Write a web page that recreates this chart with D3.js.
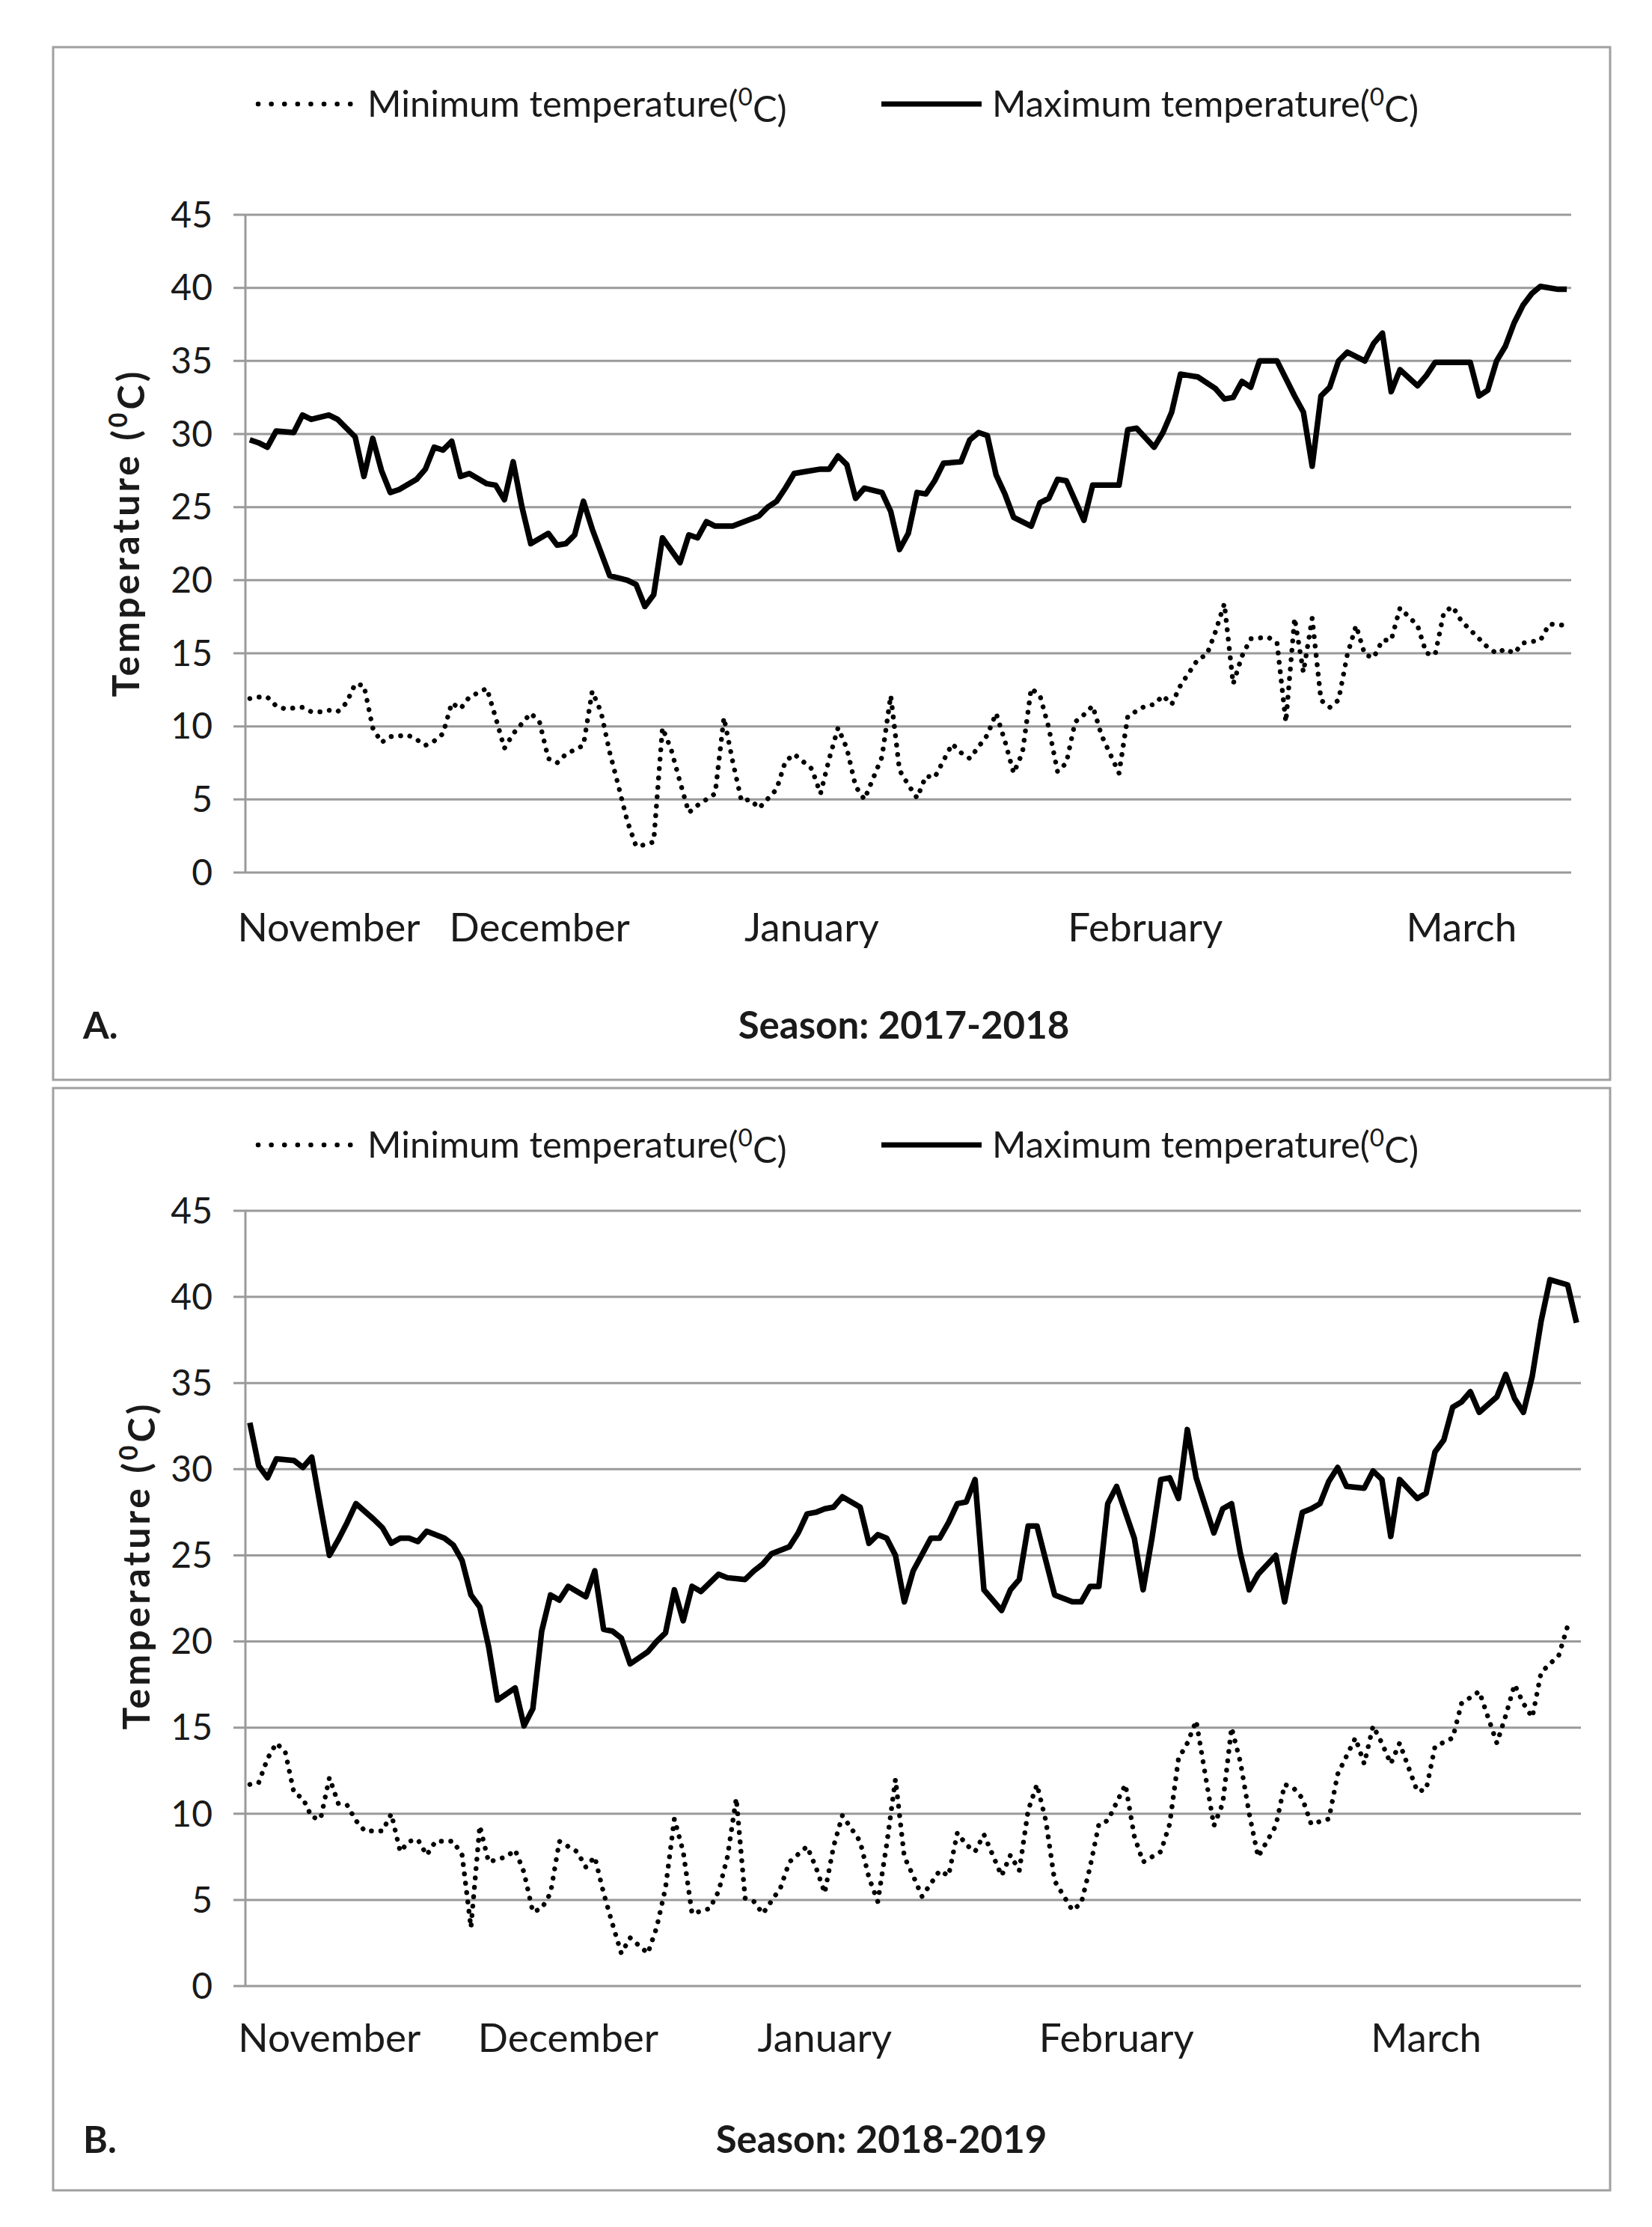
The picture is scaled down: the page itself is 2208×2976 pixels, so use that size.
<!DOCTYPE html>
<html>
<head>
<meta charset="utf-8">
<script src="https://cdn.jsdelivr.net/npm/d3@7"></script>
<style>
  body { margin: 0; background: #fff; }
  text { font-family: Lato, "Open Sans", sans-serif; fill: #1a1a1a; }
</style>
</head>
<body>
<div id="chart"></div>
<script>
// month labels and the day (0 = 1 Nov) each one sits on
const months = ["November", "December", "January", "February", "March"];
const monthDaysA = [9, 33, 64, 102, 138];
const monthDaysB = [9, 36, 65, 98, 133];
const yTicks = [0, 5, 10, 15, 20, 25, 30, 35, 40, 45];
const seasons = ["Season: 2017-2018", "Season: 2018-2019"];
const tags = ["A.", "B."];
const nDays = 151;

// [day, °C]
const maxA = [[0,29.6],[1,29.4],[2,29.1],[3,30.2],[5,30.1],[6,31.3],[7,31.0],[9,31.3],[10,31.0],[11,30.4],[12,29.8],[13,27.1],[14,29.7],[15,27.5],[16,26.0],[17,26.2],[19,26.9],[20,27.6],[21,29.1],[22,28.9],[23,29.5],[24,27.1],[25,27.3],[27,26.6],[28,26.5],[29,25.5],[30,28.1],[31,25.0],[32,22.5],[34,23.2],[35,22.4],[36,22.5],[37,23.1],[38,25.4],[39,23.5],[41,20.3],[43,20.0],[44,19.7],[45,18.2],[46,19.0],[47,22.9],[49,21.2],[50,23.1],[51,22.9],[52,24.0],[53,23.7],[55,23.7],[58,24.4],[59,25.0],[60,25.4],[61,26.3],[62,27.3],[63,27.4],[65,27.6],[66,27.6],[67,28.5],[68,27.9],[69,25.6],[70,26.3],[72,26.0],[73,24.7],[74,22.1],[75,23.2],[76,26.0],[77,25.9],[78,26.8],[79,28.0],[81,28.1],[82,29.6],[83,30.1],[84,29.9],[85,27.2],[86,25.9],[87,24.3],[89,23.7],[90,25.3],[91,25.6],[92,26.9],[93,26.8],[95,24.1],[96,26.5],[99,26.5],[100,30.3],[101,30.4],[103,29.1],[104,30.1],[105,31.5],[106,34.1],[107,34.0],[108,33.9],[110,33.1],[111,32.4],[112,32.5],[113,33.6],[114,33.2],[115,35.0],[117,35.0],[119,32.6],[120,31.5],[121,27.8],[122,32.6],[123,33.2],[124,35.0],[125,35.6],[127,35.0],[128,36.2],[129,36.9],[130,32.9],[131,34.4],[133,33.3],[134,34.0],[135,34.9],[139,34.9],[140,32.6],[141,33.0],[142,35.0],[143,36.0],[144,37.6],[145,38.8],[146,39.6],[147,40.1],[149,39.9],[150,39.9]];
const minA = [[0,11.9],[1,12.0],[2,12.0],[3,11.4],[4,11.2],[6,11.3],[7,11.0],[8,11.0],[9,11.1],[10,11.0],[11,11.6],[12,12.9],[13,12.8],[14,9.9],[15,8.9],[16,9.3],[18,9.4],[19,9.1],[20,8.7],[21,9.0],[22,9.5],[23,11.6],[24,11.2],[25,12.0],[27,12.6],[28,10.6],[29,8.5],[30,9.5],[32,10.9],[33,10.3],[34,7.8],[35,7.5],[36,8.1],[38,8.7],[39,12.4],[40,11.0],[41,8.2],[42,5.9],[43,3.5],[44,1.8],[45,1.9],[46,2.1],[47,9.9],[48,8.4],[49,6.2],[50,4.1],[51,4.6],[53,5.4],[54,10.6],[55,7.6],[56,4.9],[57,5.0],[58,4.4],[60,5.7],[61,7.6],[62,8.1],[64,7.1],[65,5.4],[66,7.8],[67,9.9],[68,8.5],[69,5.9],[70,5.0],[72,7.9],[73,12.1],[74,7.0],[75,6.0],[76,5.1],[77,6.6],[78,6.5],[80,8.8],[81,8.2],[82,7.8],[84,9.4],[85,10.9],[86,9.0],[87,6.8],[88,8.2],[89,12.6],[90,12.1],[91,9.9],[92,6.9],[93,7.5],[94,10.3],[95,10.8],[96,11.4],[97,9.4],[99,6.8],[100,10.7],[102,11.4],[103,11.5],[104,12.1],[105,11.5],[106,12.8],[108,14.6],[109,14.9],[110,16.5],[111,18.4],[112,12.9],[113,14.8],[114,16.0],[116,16.1],[117,15.7],[118,10.3],[119,17.4],[120,13.7],[121,17.4],[122,11.8],[123,11.3],[124,11.8],[125,14.9],[126,16.9],[127,14.9],[128,14.7],[129,15.9],[130,15.9],[131,18.1],[133,16.9],[134,15.0],[135,14.9],[136,17.8],[137,18.2],[138,17.2],[141,15.4],[142,15.0],[143,15.3],[144,15.0],[145,15.7],[147,15.9],[148,17.0],[150,16.9]];
const maxB = [[0,32.7],[1,30.2],[2,29.5],[3,30.6],[5,30.5],[6,30.1],[7,30.7],[8,27.8],[9,25.0],[10,25.9],[11,26.9],[12,28.0],[14,27.1],[15,26.6],[16,25.7],[17,26.0],[18,26.0],[19,25.8],[20,26.4],[22,26.0],[23,25.6],[24,24.7],[25,22.7],[26,22.0],[27,19.7],[28,16.6],[30,17.3],[31,15.1],[32,16.1],[33,20.6],[34,22.7],[35,22.4],[36,23.2],[38,22.6],[39,24.1],[40,20.7],[41,20.6],[42,20.2],[43,18.7],[45,19.4],[46,20.0],[47,20.5],[48,23.0],[49,21.2],[50,23.2],[51,22.9],[53,23.9],[54,23.7],[56,23.6],[57,24.1],[58,24.5],[59,25.1],[61,25.5],[62,26.3],[63,27.4],[64,27.5],[65,27.7],[66,27.8],[67,28.4],[69,27.8],[70,25.7],[71,26.2],[72,26.0],[73,25.0],[74,22.3],[75,24.1],[77,26.0],[78,26.0],[79,26.9],[80,28.0],[81,28.1],[82,29.4],[83,23.0],[85,21.8],[86,23.0],[87,23.6],[88,26.7],[89,26.7],[90,24.7],[91,22.7],[93,22.3],[94,22.3],[95,23.2],[96,23.2],[97,28.0],[98,29.0],[100,26.0],[101,23.0],[102,26.0],[103,29.4],[104,29.5],[105,28.3],[106,32.3],[107,29.5],[109,26.3],[110,27.7],[111,28.0],[112,25.1],[113,23.0],[114,23.9],[116,25.0],[117,22.3],[118,25.0],[119,27.5],[120,27.7],[121,28.0],[122,29.3],[123,30.1],[124,29.0],[126,28.9],[127,29.9],[128,29.4],[129,26.1],[130,29.4],[132,28.3],[133,28.6],[134,31.0],[135,31.7],[136,33.6],[137,33.9],[138,34.5],[139,33.3],[141,34.2],[142,35.5],[143,34.1],[144,33.3],[145,35.4],[146,38.6],[147,41.0],[149,40.7],[150,38.5]];
const minB = [[0,11.7],[1,11.8],[2,13.2],[3,14.1],[4,13.6],[5,11.2],[6,10.9],[7,9.8],[8,9.7],[9,12.1],[10,10.6],[11,10.5],[12,9.6],[13,9.0],[15,9.0],[16,10.0],[17,7.8],[18,8.4],[19,8.5],[20,7.6],[21,8.4],[23,8.4],[24,7.6],[25,3.4],[26,9.3],[27,7.2],[29,7.5],[30,7.9],[31,6.6],[32,4.3],[33,4.5],[34,5.4],[35,8.4],[37,7.8],[38,6.9],[39,7.5],[40,5.4],[41,3.6],[42,1.9],[43,2.8],[45,1.9],[46,3.4],[47,5.7],[48,9.7],[49,7.8],[50,4.2],[52,4.5],[53,5.5],[54,7.5],[55,10.9],[56,5.1],[57,4.9],[58,4.2],[60,5.7],[61,7.2],[63,8.1],[64,6.9],[65,5.4],[66,8.1],[67,9.9],[69,8.4],[70,6.3],[71,4.9],[72,8.2],[73,12.0],[74,7.5],[75,6.4],[76,5.2],[78,6.7],[79,6.4],[80,8.9],[81,8.2],[82,7.8],[83,8.8],[85,6.4],[86,7.6],[87,6.7],[88,10.2],[89,11.7],[90,9.6],[91,6.1],[93,4.4],[94,4.8],[95,6.9],[96,9.4],[97,9.6],[99,11.7],[100,8.7],[101,7.2],[103,7.8],[104,9.4],[105,13.2],[106,14.1],[107,15.4],[109,9.3],[110,10.6],[111,15.0],[112,13.0],[113,10.0],[114,7.5],[116,9.3],[117,11.7],[118,11.5],[119,10.9],[120,9.4],[122,9.7],[123,12.3],[125,14.4],[126,12.9],[127,15.1],[128,14.1],[129,12.9],[130,14.1],[132,11.3],[133,11.4],[134,13.9],[136,14.4],[137,16.4],[139,17.1],[140,15.6],[141,14.1],[142,15.7],[143,17.5],[144,16.4],[145,15.6],[146,18.2],[148,19.2],[149,20.9]];

const W = 2208, H = 2976;
const grid = "#9a9a9a";

const svg = d3.select("#chart").append("svg")
  .attr("width", W)
  .attr("height", H)
  .attr("viewBox", [0, 0, W, H]);

const panels = [
  { frame: [71, 63, 2152, 1443], left: 328, right: 2100, top: 287, bottom: 1166,
    min: minA, max: maxA, monthDays: monthDaysA, legendY: 139, monthY: 1258,
    titleY: 1388, titleX: 1208, yTitleX: 168, yTitleY: 712 },
  { frame: [71, 1454, 2152, 2927], left: 328, right: 2113, top: 1618, bottom: 2654,
    min: minB, max: maxB, monthDays: monthDaysB, legendY: 1530, monthY: 2742,
    titleY: 2877, titleX: 1178, yTitleX: 182, yTitleY: 2092 }
];

function degLabel(sel, name) {
  sel.append("tspan").text(name + "(");
  sel.append("tspan").attr("dy", "-0.45em").attr("font-size", "0.68em").text("0");
  sel.append("tspan").attr("dy", "0.45em").text("C)");
}

panels.forEach((p, i) => {
  const g = svg.append("g");

  // outer frame
  g.append("rect")
    .attr("x", p.frame[0]).attr("y", p.frame[1])
    .attr("width", p.frame[2] - p.frame[0]).attr("height", p.frame[3] - p.frame[1])
    .attr("fill", "none").attr("stroke", "#a0a0a0").attr("stroke-width", 3);

  const x = d3.scaleLinear().domain([-0.5, nDays - 0.5]).range([p.left, p.right]);
  const y = d3.scaleLinear().domain([0, 45]).range([p.bottom, p.top]);

  // gridlines (they also run out past the axis as the tick marks)
  g.append("g")
    .selectAll("line")
    .data(yTicks)
    .join("line")
    .attr("x1", p.left - 16).attr("x2", p.right)
    .attr("y1", d => y(d)).attr("y2", d => y(d))
    .attr("stroke", grid).attr("stroke-width", 3);

  g.append("line")
    .attr("x1", p.left).attr("x2", p.left)
    .attr("y1", y(45)).attr("y2", y(0))
    .attr("stroke", grid).attr("stroke-width", 3);

  // y tick labels
  g.append("g")
    .selectAll("text")
    .data(yTicks)
    .join("text")
    .attr("x", p.left - 44)
    .attr("y", d => y(d))
    .attr("dy", "0.35em")
    .attr("text-anchor", "end")
    .attr("font-size", 48)
    .text(d => d);

  g.append("text")
    .attr("transform", `translate(${p.yTitleX},${p.yTitleY}) rotate(-90)`)
    .attr("text-anchor", "middle")
    .attr("dy", "0.35em")
    .attr("font-size", 50)
    .attr("letter-spacing", 4)
    .attr("font-weight", "bold")
    .call(s => {
      s.append("tspan").text("Temperature (");
      s.append("tspan").attr("dy", "-0.45em").attr("font-size", "0.68em").text("0");
      s.append("tspan").attr("dy", "0.45em").text("C)");
    });

  // month labels
  g.append("g")
    .selectAll("text")
    .data(months)
    .join("text")
    .attr("x", (d, k) => x(p.monthDays[k]))
    .attr("y", p.monthY)
    .attr("text-anchor", "middle")
    .attr("font-size", 53)
    .text(d => d);

  const line = d3.line()
    .x(d => x(d[0]))
    .y(d => y(d[1]));

  g.append("path")
    .datum(p.min)
    .attr("d", line)
    .attr("fill", "none")
    .attr("stroke", "#000")
    .attr("stroke-width", 6.5)
    .attr("stroke-linecap", "round")
    .attr("stroke-dasharray", "0.1 12.5");

  g.append("path")
    .datum(p.max)
    .attr("d", line)
    .attr("fill", "none")
    .attr("stroke", "#000")
    .attr("stroke-width", 7.5)
    .attr("stroke-linejoin", "round");

  // legend
  const lg = g.append("g");
  lg.append("line")
    .attr("x1", 345).attr("x2", 470)
    .attr("y1", p.legendY).attr("y2", p.legendY)
    .attr("stroke", "#000").attr("stroke-width", 6.5)
    .attr("stroke-linecap", "round").attr("stroke-dasharray", "0.1 17.5");
  lg.append("text")
    .attr("x", 491).attr("y", p.legendY).attr("dy", "0.35em")
    .attr("font-size", 49)
    .call(degLabel, "Minimum temperature");
  lg.append("line")
    .attr("x1", 1178).attr("x2", 1312)
    .attr("y1", p.legendY).attr("y2", p.legendY)
    .attr("stroke", "#000").attr("stroke-width", 7);
  lg.append("text")
    .attr("x", 1326).attr("y", p.legendY).attr("dy", "0.35em")
    .attr("font-size", 49)
    .call(degLabel, "Maximum temperature");

  g.append("text")
    .attr("x", p.titleX).attr("y", p.titleY)
    .attr("text-anchor", "middle")
    .attr("font-size", 51)
    .attr("font-weight", "bold")
    .text(seasons[i]);

  g.append("text")
    .attr("x", 111).attr("y", p.titleY)
    .attr("font-size", 50)
    .attr("font-weight", "bold")
    .text(tags[i]);
});
</script>
</body>
</html>
